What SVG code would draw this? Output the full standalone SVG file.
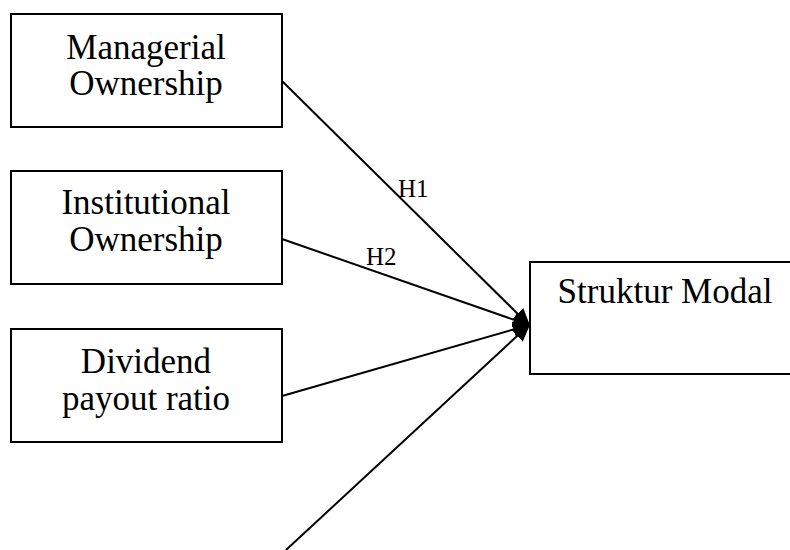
<svg xmlns="http://www.w3.org/2000/svg" width="790" height="550" viewBox="0 0 790 550">
<style>
.box{fill:#fff;stroke:#000;stroke-width:2}
.t{font-family:"Liberation Serif","Times New Roman",serif;font-size:35px;fill:#000;text-anchor:middle}
.lbl{font-family:"Liberation Serif","Times New Roman",serif;font-size:25px;fill:#000}
.c{stroke:#000;stroke-width:2;fill:none;marker-end:url(#ah)}
</style>
<defs>
<marker id="ah" markerWidth="9" markerHeight="8" refX="8" refY="4" orient="auto" markerUnits="strokeWidth">
<path d="M0,0 L9,4 L0,8 Z" fill="#000"/>
</marker>
</defs>
<rect width="790" height="550" fill="#fff"/>
<g id="connectors">
<line class="c" x1="282" y1="81" x2="529" y2="325"/>
<line class="c" x1="282" y1="239" x2="529" y2="325"/>
<line class="c" x1="282" y1="396" x2="529" y2="325"/>
<line class="c" x1="286" y1="550" x2="529" y2="325"/>
<text class="lbl" x="398" y="197">H1</text>
<text class="lbl" x="366" y="265">H2</text>
</g>
<g id="managerial">
<rect class="box" x="11" y="14" width="271" height="113"/>
<text class="t" x="146" y="59">Managerial</text>
<text class="t" x="146" y="95">Ownership</text>
</g>
<g id="institutional">
<rect class="box" x="11" y="171" width="271" height="113"/>
<text class="t" x="146" y="214">Institutional</text>
<text class="t" x="146" y="251">Ownership</text>
</g>
<g id="dividend">
<rect class="box" x="11" y="329" width="271" height="113"/>
<text class="t" x="146" y="373">Dividend</text>
<text class="t" x="146" y="410">payout ratio</text>
</g>
<g id="struktur">
<rect class="box" x="530" y="262" width="270" height="112"/>
<text class="t" x="665" y="303">Struktur Modal</text>
</g>
</svg>
